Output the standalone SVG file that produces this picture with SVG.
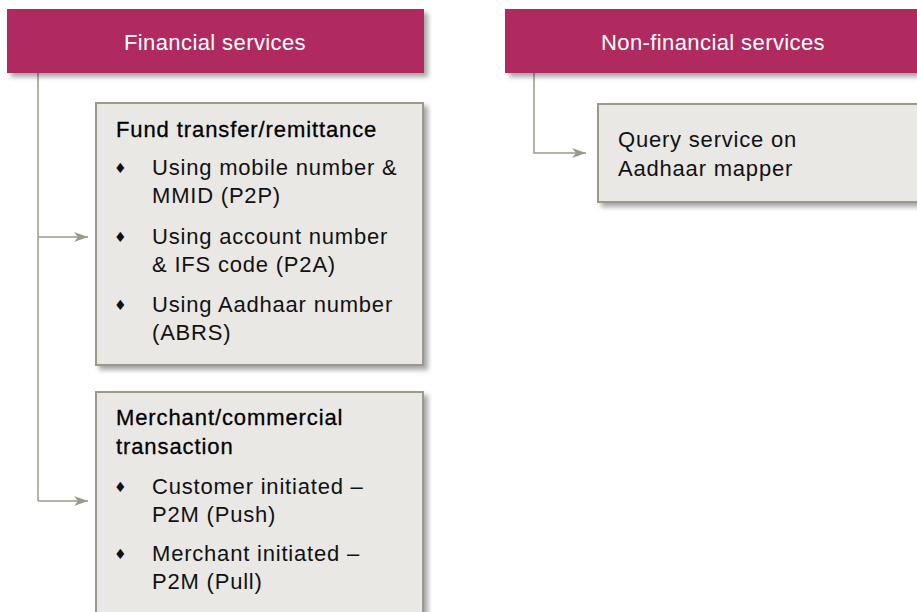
<svg xmlns="http://www.w3.org/2000/svg" width="917" height="612" viewBox="0 0 917 612">
<defs>
<filter id="sh" x="-10%" y="-10%" width="130%" height="130%">
<feDropShadow dx="4" dy="4" stdDeviation="2.5" flood-color="#000" flood-opacity="0.35"/>
</filter>
<marker id="arr" viewBox="0 0 14 10" refX="14" refY="5" markerWidth="14" markerHeight="10" markerUnits="userSpaceOnUse" orient="auto">
<path d="M0,0 L14,5 L0,10 L4,5 Z" fill="#9C988C"/>
</marker>
</defs>
<style>
.hdr{fill:#B1295E;filter:url(#sh)}
.box{fill:#EAE8E5;stroke:#9C988C;stroke-width:2;filter:url(#sh)}
.ht{font-family:"Liberation Sans",Arial,sans-serif;font-size:22px;letter-spacing:0.4px;fill:#fff;text-anchor:middle}
.bt{font-family:"Liberation Sans",Arial,sans-serif;font-size:22px;letter-spacing:0.8px;fill:#111}
.bh{font-family:"Liberation Sans",Arial,sans-serif;font-size:22px;letter-spacing:0.9px;fill:#000;stroke:#000;stroke-width:0.3}
.bul{font-family:"DejaVu Sans",sans-serif;font-size:14px;fill:#111}
.con{fill:none;stroke:#9C988C;stroke-width:1.5}
</style>
<rect width="917" height="612" fill="#fff"/>
<g id="connectors">
<path class="con" d="M38,73 V501"/>
<path class="con" d="M38,237 H88" marker-end="url(#arr)"/>
<path class="con" d="M38,501 H88" marker-end="url(#arr)"/>
<path class="con" d="M534,73 V153 H586" marker-end="url(#arr)"/>
</g>
<g id="financial">
<rect class="hdr" x="7" y="9" width="417" height="64"/>
<text class="ht" x="215" y="50">Financial services</text>
</g>
<g id="nonfinancial">
<rect class="hdr" x="505" y="9" width="420" height="64"/>
<text class="ht" x="713" y="50">Non-financial services</text>
</g>
<g id="fund">
<rect class="box" x="96" y="103" width="327" height="262"/>
<text class="bh" x="116" y="137">Fund transfer/remittance</text>
<text class="bul" x="114" y="173">♦</text>
<text class="bt" x="152" y="175">Using mobile number &amp;</text>
<text class="bt" x="152" y="203">MMID (P2P)</text>
<text class="bul" x="114" y="242">♦</text>
<text class="bt" x="152" y="244">Using account number</text>
<text class="bt" x="152" y="272">&amp; IFS code (P2A)</text>
<text class="bul" x="114" y="310">♦</text>
<text class="bt" x="152" y="312">Using Aadhaar number</text>
<text class="bt" x="152" y="340">(ABRS)</text>
</g>
<g id="merchant">
<rect class="box" x="96" y="392" width="327" height="230"/>
<text class="bh" x="116" y="425">Merchant/commercial</text>
<text class="bh" x="116" y="454">transaction</text>
<text class="bul" x="114" y="492">♦</text>
<text class="bt" x="152" y="494">Customer initiated –</text>
<text class="bt" x="152" y="522">P2M (Push)</text>
<text class="bul" x="114" y="559">♦</text>
<text class="bt" x="152" y="561">Merchant initiated –</text>
<text class="bt" x="152" y="589">P2M (Pull)</text>
</g>
<g id="query">
<rect class="box" x="598" y="104" width="330" height="98"/>
<text class="bt" x="618" y="147">Query service on</text>
<text class="bt" x="618" y="176">Aadhaar mapper</text>
</g>
</svg>
